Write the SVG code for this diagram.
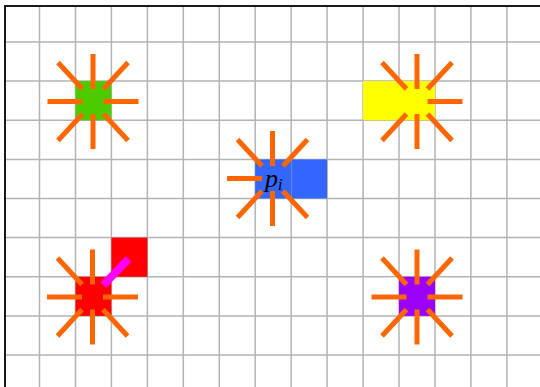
<svg xmlns="http://www.w3.org/2000/svg" xmlns:xlink="http://www.w3.org/1999/xlink" width="540" height="387" viewBox="0 0 540 387">
<style>
.grid{stroke:#b4b4b4;stroke-width:1.5;fill:none}
.border{stroke:#1a1a1a;stroke-width:2;fill:none}
.ray{stroke:#FF6600;stroke-width:5;fill:none;stroke-linecap:butt}
.mag{stroke:#FF00FF;stroke-width:8;fill:none}
.lbl{font-family:"Liberation Serif","DejaVu Serif",serif;font-style:italic;fill:#000}
</style>
<defs>
<path id="core" class="ray" d="M0 -47.5V-12.5M0 12.5V47.5M-35 -39L-10.5 -12.5M-35 39L-10.5 12.5M35 39L10.5 12.5"/>
<path id="rayL" class="ray" d="M-45.5 0H-10.5"/>
<path id="rayR" class="ray" d="M10.5 0H45.5"/>
<path id="rayTR" class="ray" d="M35 -39L10.5 -12.5"/>
</defs>
<rect x="0" y="0" width="540" height="387" fill="#ffffff"/>
<g id="grid">
<path class="grid" d="M39.5 6V387M75.5 6V387M111.4 6V387M147.4 6V387M183.3 6V387M219.3 6V387M255.2 6V387M291.2 6V387M327.1 6V387M363.1 6V387M399 6V387M435 6V387M470.9 6V387M506.9 6V387"/>
<path class="grid" d="M5 42H540M5 81.1H540M5 120.3H540M5 159.4H540M5 198.5H540M5 237.6H540M5 276.8H540M5 315.9H540M5 355H540"/>
<path class="border" d="M5 387V6H540"/>
</g>
<g id="node-green">
<rect x="75.5" y="81.1" width="35.9" height="39.2" fill="#4CCC00"/>
<g transform="translate(93,101.5)"><use xlink:href="#core"/><use xlink:href="#rayL"/><use xlink:href="#rayR"/><use xlink:href="#rayTR"/></g>
</g>
<g id="node-blue">
<rect x="255.2" y="159.4" width="35.8" height="39.1" fill="#3366FF"/>
<rect x="291.4" y="159.4" width="35.7" height="39.1" fill="#3366FF"/>
<g transform="translate(272.5,178.5)"><use xlink:href="#core"/><use xlink:href="#rayL"/><use xlink:href="#rayTR"/></g>
<text class="lbl" x="265" y="187" font-size="26">p<tspan font-size="16" dy="3">i</tspan></text>
</g>
<g id="node-yellow">
<rect x="363.1" y="81.1" width="71.9" height="39.2" fill="#FFFF00"/>
<g transform="translate(417,101.5)"><use xlink:href="#core"/><use xlink:href="#rayR"/><use xlink:href="#rayTR"/></g>
</g>
<g id="node-red">
<rect x="75.5" y="276.8" width="35.9" height="39.1" fill="#FF0000"/>
<rect x="111.4" y="237.6" width="36" height="39.2" fill="#FF0000"/>
<g transform="translate(92.5,297)"><use xlink:href="#core"/><use xlink:href="#rayL"/><use xlink:href="#rayR"/>
<path class="mag" d="M10.8 -12L36 -38"/></g>
</g>
<g id="node-purple">
<rect x="399" y="276.8" width="36" height="39.1" fill="#9900FF"/>
<g transform="translate(417,297)"><use xlink:href="#core"/><use xlink:href="#rayL"/><use xlink:href="#rayR"/><use xlink:href="#rayTR"/></g>
</g>
<g id="connectors"></g>
</svg>
